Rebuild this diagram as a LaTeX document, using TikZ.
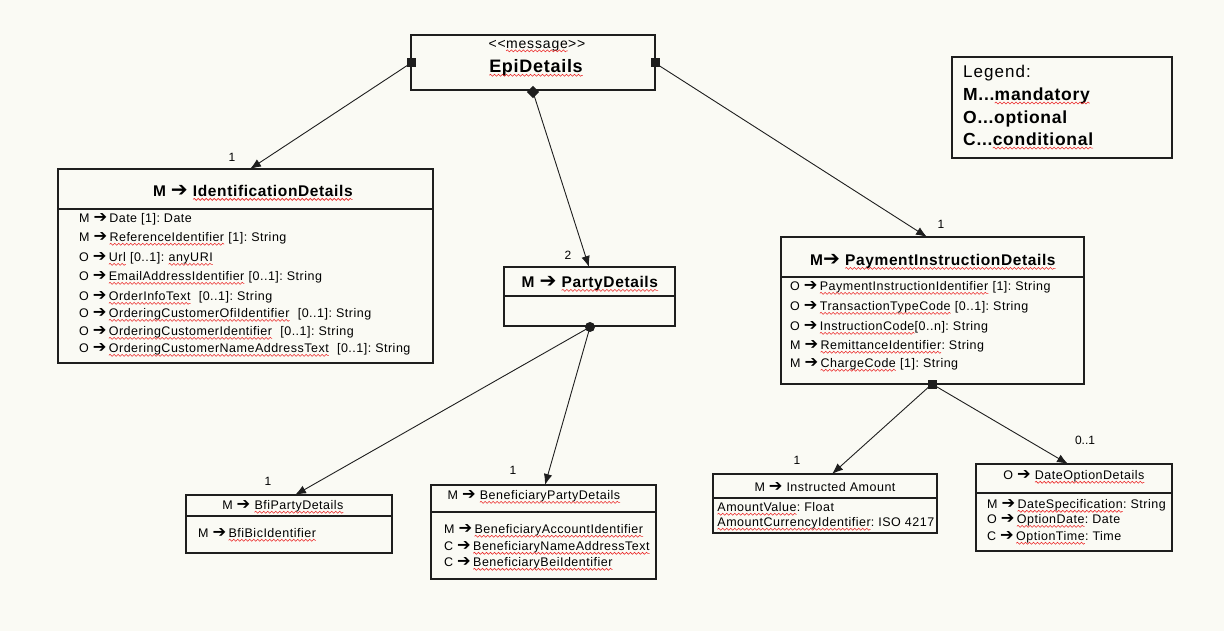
\documentclass[tikz,border=0pt]{standalone}
\usepackage{fontspec}
\setmainfont{Liberation Sans}
\newfontfamily\spf[LetterSpace=4]{Liberation Sans}
\newfontfamily\spfa[LetterSpace=6]{Liberation Sans}
\newfontfamily\dv{DejaVu Sans}
\usetikzlibrary{arrows.meta,decorations.pathmorphing}
\frenchspacing
\newcommand{\ra}{\scalebox{1.3}{\dv\bfseries\symbol{"2794}}}
\definecolor{wavy}{RGB}{235,40,40}
\newcommand{\sq}[1]{\tikz[baseline=(w.base)]{\node[inner sep=0,outer sep=0,anchor=base] (w) at (0,0) {#1};\draw[wavy,line width=0.55pt,decorate,decoration={snake,amplitude=1pt,segment length=4pt}] ([yshift=-2.8pt]w.base west) -- ([yshift=-2.8pt]w.base east);}}
\definecolor{paper}{RGB}{250,250,244}
\definecolor{ink}{RGB}{30,30,30}
\begin{document}
\begin{tikzpicture}[x=1pt,y=-1pt,
  box/.style={draw=ink,line width=1.3pt,inner sep=0,outer sep=0,anchor=north west},
  divline/.style={draw=ink,line width=1.1pt},
  row/.style={anchor=west,inner sep=0,font=\spf\fontsize{12.5}{14}\selectfont},
  ttl/.style={inner sep=0,font=\spf\fontsize{12.5}{14}\selectfont},
  bttl/.style={inner sep=0,font=\spf\bfseries\fontsize{15.5}{17}\selectfont},
  lbl/.style={inner sep=0,font=\fontsize{12}{13}\selectfont},
  conn/.style={draw=ink,line width=0.9pt,-{Latex[length=11pt,width=8.5pt]}},
  sqm/.style={fill=ink,draw=none,minimum size=9pt,inner sep=0,outer sep=0},
  dim/.style={fill=ink,draw=none,minimum size=8.5pt,inner sep=0,outer sep=0,rotate=45},
  cim/.style={fill=ink,draw=none,circle,minimum size=10pt,inner sep=0,outer sep=0},
  leg/.style={anchor=west,inner sep=0,font=\spfa\fontsize{17}{19}\selectfont},
  legb/.style={anchor=west,inner sep=0,font=\spf\bfseries\fontsize{17.5}{19}\selectfont}]
\fill[paper] (0,0) rectangle (1224,631);
\useasboundingbox (0,0) rectangle (1224,631);

% EpiDetails
\node[box,minimum width=244pt,minimum height=55pt] (epi) at (411,35) {};
\node[inner sep=0,font=\spfa\fontsize{14}{15}\selectfont] (epist) at (537,46) {{<}{<}\sq{message}{>}{>}};
\node[inner sep=0,font=\spf\bfseries\fontsize{18}{20}\selectfont] (epit) at (536,68) {\sq{EpiDetails}};

% Legend
\node[box,minimum width=220pt,minimum height=101pt] (legend) at (952,57) {};
\node[leg] (lg0) at (963,73) {Legend:};
\node[legb] (lg1) at (963,96) {M...\sq{mandatory}};
\node[legb] (lg2) at (963,119) {O...optional};
\node[legb] (lg3) at (963,141) {C...\sq{conditional}};

% IdentificationDetails
\node[box,minimum width=375pt,minimum height=194pt] (idd) at (58,169) {};
\draw[divline] (58,209) -- (433,209);
\node[bttl] (iddt) at (253,193) {M \ra\ \sq{IdentificationDetails}};
\node[row] (id1) at (79,219) {M \ra\,Date [1]: Date};
\node[row] (id2) at (79,239) {M \ra\,\sq{ReferenceIdentifier} [1]: String};
\node[row] (id3) at (79,259) {O \ra\,\sq{Url} [0..1]: \sq{anyURI}};
\node[row] (id4) at (79,278) {O \ra\,\sq{EmailAddressIdentifier} [0..1]: String};
\node[row] (id5) at (79,298) {O \ra\,\sq{OrderInfoText}\ \ [0..1]: String};
\node[row] (id6) at (79,315) {O \ra\,\sq{OrderingCustomerOfiIdentifier}\ \ [0..1]: String};
\node[row] (id7) at (79,333) {O \ra\,\sq{OrderingCustomerIdentifier}\ \ [0..1]: String};
\node[row] (id8) at (79,350) {O \ra\,\sq{OrderingCustomerNameAddressText}\ \ [0..1]: String};

% PartyDetails
\node[box,minimum width=171pt,minimum height=59pt] (pd) at (504,267) {};
\draw[divline] (504,296) -- (675,296);
\node[inner sep=0,font=\spf\bfseries\fontsize{15.5}{17}\selectfont] (pdt) at (590,284) {M \ra\ \sq{PartyDetails}};

% PaymentInstructionDetails
\node[box,minimum width=303pt,minimum height=147pt] (pay) at (781,237) {};
\draw[divline] (781,277) -- (1084,277);
\node[bttl] (payt) at (933,262) {M\ra\ \sq{PaymentInstructionDetails}};
\node[row] (p1) at (790,288) {O \ra\,\sq{PaymentInstructionIdentifier} [1]: String};
\node[row] (p2) at (790,308) {O \ra\,\sq{TransactionTypeCode} [0..1]: String};
\node[row] (p3) at (790,328) {O \ra\,\sq{InstructionCode}[0..n]: String};
\node[row] (p4) at (790,347) {M \ra\,\sq{RemittanceIdentifier}: String};
\node[row] (p5) at (790,365) {M \ra\,\sq{ChargeCode} [1]: String};

% BfiPartyDetails
\node[box,minimum width=206pt,minimum height=58pt] (bfi) at (186,495) {};
\draw[divline] (186,516) -- (392,516);
\node[ttl] (bfit) at (283,507) {M \ra\ \sq{BfiPartyDetails}};
\node[row] (bf1) at (198,535) {M \ra\,\sq{BfiBicIdentifier}};

% BeneficiaryPartyDetails
\node[box,minimum width=225pt,minimum height=94pt] (ben) at (431,485) {};
\draw[divline] (431,512) -- (656,512);
\node[ttl] (bent) at (534,497) {M \ra\ \sq{BeneficiaryPartyDetails}};
\node[row] (bn1) at (444,531) {M \ra\,\sq{BeneficiaryAccountIdentifier}};
\node[row] (bn2) at (444,548) {C \ra\,\sq{BeneficiaryNameAddressText}};
\node[row] (bn3) at (444,564) {C \ra\,\sq{BeneficiaryBeiIdentifier}};

% Instructed Amount
\node[box,minimum width=224pt,minimum height=59pt] (ia) at (713,474) {};
\draw[divline] (713,498) -- (937,498);
\node[ttl] (iat) at (825,487) {M \ra\ Instructed Amount};
\node[row] (ia1) at (717,509) {\sq{AmountValue}:\ Float};
\node[row] (ia2) at (717,524) {\sq{AmountCurrencyIdentifier}: ISO 4217};

% DateOptionDetails
\node[box,minimum width=196pt,minimum height=87pt] (dod) at (976,464) {};
\draw[divline] (976,493) -- (1172,493);
\node[ttl] (dodt) at (1074,477) {O \ra\ \sq{DateOptionDetails}};
\node[row] (do1) at (987,506) {M \ra\,\sq{DateSpecification}: String};
\node[row] (do2) at (987,521) {O \ra\,\sq{OptionDate}: Date};
\node[row] (do3) at (987,538) {C \ra\,\sq{OptionTime}: Time};

% end points
\coordinate (in-idd) at (250,169);
\coordinate (in-pd) at (589,267);
\coordinate (in-pay) at (927,237);
\coordinate (in-bfi) at (295,495);
\coordinate (in-ben) at (545,485);
\coordinate (in-ia) at (832,474);
\coordinate (in-dod) at (1068,464);

% connectors
\draw[conn] (411,63) coordinate (s1) -- (in-idd);
\draw[conn] (533,92) coordinate (s2) -- (in-pd);
\draw[conn] (655,63) coordinate (s3) -- (in-pay);
\draw[conn] (590,327) coordinate (s4) -- (in-bfi);
\draw[conn] (s4) -- (in-ben);
\draw[conn] (932,384) coordinate (s5) -- (in-ia);
\draw[conn] (s5) -- (in-dod);

% markers
\node[sqm] (m1) at (s1) {};
\node[dim] (m2) at (s2) {};
\node[sqm] (m3) at (s3) {};
\node[cim] (m4) at (s4) {};
\node[sqm] (m5) at (s5) {};

% multiplicities
\node[lbl] (l1) at (232,157) {1};
\node[lbl] (l2) at (568,255) {2};
\node[lbl] (l3) at (941,224) {1};
\node[lbl] (l4) at (268,481) {1};
\node[lbl] (l5) at (513,470) {1};
\node[lbl] (l6) at (797,460) {1};
\node[lbl] (l7) at (1085,440) {0..1};
\end{tikzpicture}
\end{document}
